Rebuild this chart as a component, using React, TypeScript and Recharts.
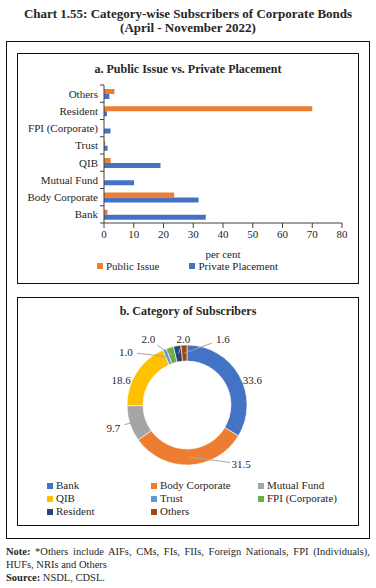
import {
  BarChart,
  Bar,
  XAxis,
  YAxis,
  Legend,
  PieChart,
  Pie,
  Cell,
} from "recharts";

const CATEGORIES = [
  "Others",
  "Resident",
  "FPI (Corporate)",
  "Trust",
  "QIB",
  "Mutual Fund",
  "Body Corporate",
  "Bank",
];
const PUBLIC_ISSUE = [3.5, 70, 0, 0.4, 2.2, 0, 23.6, 1.2];
const PRIVATE_PLACEMENT = [1.8, 1.0, 2.2, 1.2, 19.0, 10.1, 31.8, 34.2];
const X_TICKS = [0, 10, 20, 30, 40, 50, 60, 70, 80];

const DONUT_NAMES = [
  "Bank",
  "Body Corporate",
  "Mutual Fund",
  "QIB",
  "Trust",
  "FPI (Corporate)",
  "Resident",
  "Others",
];
const DONUT_VALUES = [33.6, 31.5, 9.7, 18.6, 1.0, 2.0, 2.0, 1.6];
const DONUT_COLORS = [
  "#4472C4",
  "#ED7D31",
  "#A5A5A5",
  "#FFC000",
  "#5B9BD5",
  "#70AD47",
  "#264478",
  "#9E480E",
];

// where each data label sits: [degrees clockwise from 12 o'clock, radius]
const LABEL_SPOTS: [number, number][] = [
  [69, 70],
  [137.5, 80],
  [253, 77],
  [291, 70.6],
  [311, 81],
  [329.6, 76.5],
  [356.8, 66],
  [28.6, 75],
];
const LABEL_HAS_LINE = [false, true, true, false, true, true, true, true];

const FONT = "'Liberation Serif', serif";
const INK = "#262626";
const AXIS = "#404040";
const ORANGE = "#ED7D31";
const BLUE = "#4472C4";

const barData = CATEGORIES.map((name, i) => ({
  name,
  publicIssue: PUBLIC_ISSUE[i],
  privatePlacement: PRIVATE_PLACEMENT[i],
}));

const pieData = DONUT_NAMES.map((name, i) => ({ name, value: DONUT_VALUES[i] }));

// bar chart geometry
const BAR_W = 341;
const BAR_H = 230;
const BAR_MARGIN = { top: 32, right: 16, left: 0, bottom: 5 };
const X_AXIS_H = 37;
const LEGEND_H = 18;
const PLOT_H = BAR_H - BAR_MARGIN.top - BAR_MARGIN.bottom - X_AXIS_H - LEGEND_H;
const BAND = PLOT_H / CATEGORIES.length;

function CategoryTick(props: any) {
  const { x, y, payload, index } = props;
  const axisX = x + 6;
  return (
    <g>
      <line x1={axisX - 4} x2={axisX} y1={y - BAND / 2} y2={y - BAND / 2} stroke={AXIS} />
      {index === CATEGORIES.length - 1 && (
        <line x1={axisX - 4} x2={axisX} y1={y + BAND / 2} y2={y + BAND / 2} stroke={AXIS} />
      )}
      <text x={x} y={y} dy={4} textAnchor="end" fontSize={11} fill={INK} fontFamily={FONT}>
        {payload.value}
      </text>
    </g>
  );
}

function BarLegend() {
  const items = [
    { label: "Public Issue", color: ORANGE },
    { label: "Private Placement", color: BLUE },
  ];
  return (
    <div style={{ display: "flex", justifyContent: "center", fontFamily: FONT, fontSize: 11, color: INK }}>
      {items.map((it, i) => (
        <div key={it.label} style={{ display: "flex", alignItems: "center", marginRight: i === 0 ? 30 : 0 }}>
          <span style={{ width: 6, height: 6, background: it.color, marginRight: 3 }} />
          {it.label}
        </div>
      ))}
    </div>
  );
}

function DonutLegend() {
  return (
    <div
      style={{
        display: "grid",
        gridTemplateColumns: "104px 107px 100px",
        paddingLeft: 30,
        fontFamily: FONT,
        fontSize: 11,
        color: INK,
        lineHeight: "13px",
      }}
    >
      {DONUT_NAMES.map((n, i) => (
        <div key={n} style={{ display: "flex", alignItems: "center" }}>
          <span style={{ width: 6, height: 6, background: DONUT_COLORS[i], marginRight: 3 }} />
          {n}
        </div>
      ))}
    </div>
  );
}

function polar(cx: number, cy: number, r: number, deg: number) {
  const a = (deg * Math.PI) / 180;
  return { x: cx + r * Math.sin(a), y: cy - r * Math.cos(a) };
}

function DonutLabel(props: any) {
  const { cx, cy, midAngle, innerRadius, outerRadius, index, value } = props;
  const [deg, r] = LABEL_SPOTS[index];
  const p = polar(cx, cy, r, deg);
  // midAngle is counter-clockwise from 3 o'clock
  const anchor = polar(cx, cy, (innerRadius + outerRadius) / 2, 90 - midAngle);
  let line = null;
  if (LABEL_HAS_LINE[index]) {
    const dx = anchor.x - p.x;
    const dy = anchor.y - p.y;
    const t = Math.min(11 / Math.max(Math.abs(dx), 0.01), 6 / Math.max(Math.abs(dy), 0.01));
    if (t < 1) {
      line = (
        <line x1={p.x + dx * t} y1={p.y + dy * t} x2={anchor.x} y2={anchor.y} stroke="#A6A6A6" strokeWidth={1} />
      );
    }
  }
  return (
    <g>
      {line}
      <text x={p.x} y={p.y} dy={4} textAnchor="middle" fontSize={11} fill={INK} fontFamily={FONT}>
        {value.toFixed(1)}
      </text>
    </g>
  );
}

const box = (left: number, top: number, width: number, height: number, bw = 1.5) => ({
  position: "absolute" as const,
  left,
  top,
  width,
  height,
  border: `${bw}px solid #111`,
  boxSizing: "border-box" as const,
});

export default function App() {
  return (
    <div style={{ position: "absolute", left: 0, top: 0, width: 376, height: 588, background: "#fff", fontFamily: FONT, color: INK }}>
      <div style={{ position: "absolute", top: 7, left: 0, width: 376, textAlign: "center", fontWeight: "bold", fontSize: 13, lineHeight: "13.5px" }}>
        Chart 1.55: Category-wise Subscribers of Corporate Bonds
        <br />
        (April - November 2022)
      </div>

      <div style={box(6, 41, 364, 498)} />
      <div style={box(17, 53, 342, 231)} />
      <div style={box(17, 297, 342, 229)} />

      <div style={{ position: "absolute", top: 62, left: 17, width: 342, textAlign: "center", fontWeight: "bold", fontSize: 12 }}>
        a. Public Issue vs. Private Placement
      </div>
      <div style={{ position: "absolute", left: 17, top: 53 }}>
        <BarChart
          width={BAR_W}
          height={BAR_H}
          data={barData}
          layout="vertical"
          margin={BAR_MARGIN}
          barSize={5}
          barGap={0}
        >
          <XAxis
            type="number"
            domain={[0, 80]}
            ticks={X_TICKS}
            height={X_AXIS_H}
            stroke={AXIS}
            tickSize={5}
            tickMargin={2}
            tick={{ fontSize: 11, fill: INK, fontFamily: FONT }}
            label={{ value: "per cent", position: "insideBottom", offset: 2, fontSize: 11, fill: INK, fontFamily: FONT }}
          />
          <YAxis
            type="category"
            dataKey="name"
            width={87}
            stroke={AXIS}
            tickLine={false}
            tickSize={0}
            tickMargin={6}
            interval={0}
            tick={<CategoryTick />}
          />
          <Legend verticalAlign="bottom" height={LEGEND_H} wrapperStyle={{ left: 0, width: BAR_W }} content={<BarLegend />} />
          <Bar dataKey="publicIssue" name="Public Issue" fill={ORANGE} isAnimationActive={false} />
          <Bar dataKey="privatePlacement" name="Private Placement" fill={BLUE} isAnimationActive={false} />
        </BarChart>
      </div>

      <div style={{ position: "absolute", top: 304, left: 17, width: 342, textAlign: "center", fontWeight: "bold", fontSize: 12 }}>
        b. Category of Subscribers
      </div>
      <div style={{ position: "absolute", left: 17, top: 297 }}>
        <PieChart width={341} height={228} margin={{ top: 0, right: 0, left: 0, bottom: 6 }}>
          <Pie
            data={pieData}
            dataKey="value"
            nameKey="name"
            cx={170}
            cy={108}
            innerRadius={44}
            outerRadius={60}
            startAngle={90}
            endAngle={-270}
            stroke="#fff"
            strokeWidth={0.6}
            label={DonutLabel}
            labelLine={false}
            isAnimationActive={false}
          >
            {pieData.map((d, i) => (
              <Cell key={d.name} fill={DONUT_COLORS[i]} />
            ))}
          </Pie>
          <Legend verticalAlign="bottom" height={40} wrapperStyle={{ left: 0, width: 341 }} content={<DonutLegend />} />
        </PieChart>
      </div>

      <div style={{ position: "absolute", left: 6, top: 545, width: 364, fontSize: 10.5, lineHeight: "13px" }}>
        <div style={{ textAlign: "justify", textAlignLast: "justify", whiteSpace: "nowrap" as const }}>
          <b>Note:</b> *Others include AIFs, CMs, FIs, FIIs, Foreign Nationals, FPI (Individuals),
        </div>
        <div>HUFs, NRIs and Others</div>
        <div>
          <b>Source:</b> NSDL, CDSL.
        </div>
      </div>
    </div>
  );
}
